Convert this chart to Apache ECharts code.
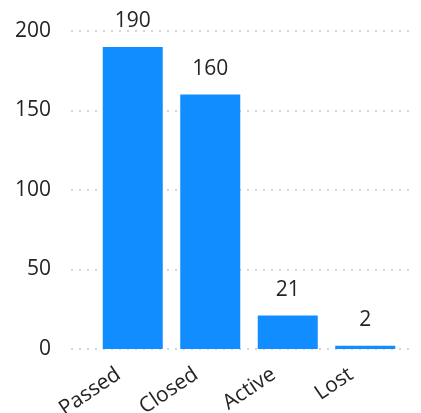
<!DOCTYPE html>
<html><head><meta charset="utf-8">
<script src="https://cdn.jsdelivr.net/npm/echarts@6/dist/echarts.min.js"></script>
<style>html,body{margin:0;padding:0;background:#fff}#c{width:421px;height:413px}</style>
</head><body><div id="c"></div>
<script>
const categories = ['Passed', 'Closed', 'Active', 'Lost'];
const values = [190, 160, 21, 2];
const yTicks = { min: 0, max: 200, interval: 50 };

const font = '"Open Sans", "Noto Sans", sans-serif';
const chart = echarts.init(document.getElementById('c'), null, {renderer: 'canvas'});
chart.setOption({
  animation: false,
  grid: [
    {left: 71, right: 8, top: 31, bottom: 64, outerBoundsMode: 'none', containLabel: false},
    {left: 94, right: 17, top: 31, bottom: 64, outerBoundsMode: 'none', containLabel: false}
  ],
  xAxis: [
    {gridIndex: 0, type: 'category', data: categories, show: false},
    {gridIndex: 1, type: 'category', data: categories,
     axisLine: {show: false}, axisTick: {show: false},
     axisLabel: {rotate: 34, fontSize: 21, color: '#252423', fontFamily: font, margin: 14,
                 padding: [0, 17, 0, 0], interval: 0}}
  ],
  yAxis: [
    {gridIndex: 0, type: 'value', min: yTicks.min, max: yTicks.max, interval: yTicks.interval,
     axisLine: {show: false}, axisTick: {show: false},
     axisLabel: {fontSize: 21, color: '#252423', fontFamily: font, margin: 20},
     splitLine: {lineStyle: {color: '#c8c8c8', type: [2, 6], width: 1.5}}},
    {gridIndex: 1, type: 'value', min: yTicks.min, max: yTicks.max, interval: yTicks.interval, show: false,
     splitLine: {show: false}}
  ],
  series: [{
    type: 'bar', xAxisIndex: 1, yAxisIndex: 1, data: values, barWidth: 60,
    itemStyle: {color: '#118DFF'},
    label: {show: true, position: 'top', distance: 15, fontSize: 21, color: '#252423', fontFamily: font}
  }]
});
</script></body></html>
